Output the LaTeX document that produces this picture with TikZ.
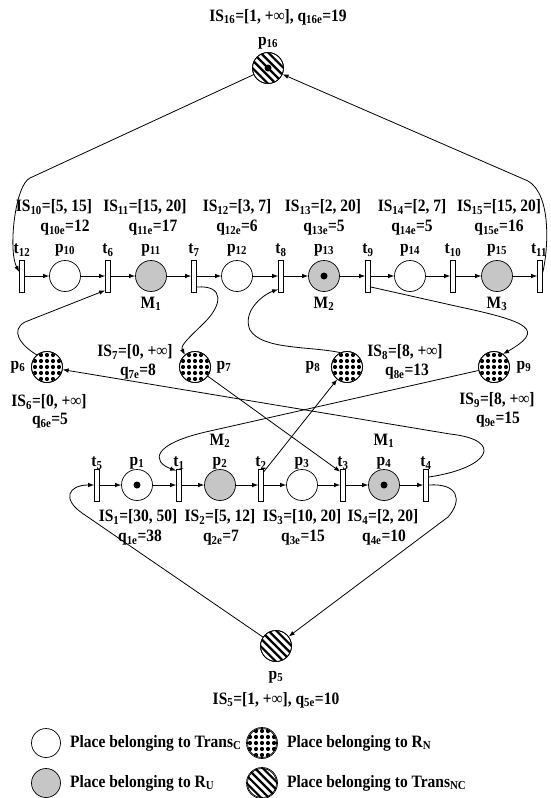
\documentclass[tikz,border=0pt]{standalone}
\usepackage{fontspec}
\setmainfont{Liberation Serif}
\usetikzlibrary{arrows.meta,calc}
\tikzset{
  place/.style={circle,draw,line width=0.7pt,minimum size=31pt,inner sep=0pt},
  ru/.style={place,fill=gray!45},
  trans/.style={rectangle,draw,line width=0.7pt,minimum width=5pt,minimum height=32pt,inner sep=0pt,fill=white},
  lbl/.style={inner sep=0pt,font=\fontsize{15.5}{18}\selectfont\bfseries,
    execute at begin node={\setbox0=\hbox\bgroup},
    execute at end node={\egroup\scalebox{1}[1.12]{\box0}}},
  arc/.style={line width=0.8pt,-{Latex[length=6pt,width=4.5pt]}},
  tok/.style={circle,fill=black,inner sep=0pt,minimum size=7pt},
}
\newcommand{\rnpat}[1]{\begin{scope}\clip (#1.center) circle (15pt);
  \foreach \i in {-2,...,2}{\foreach \j in {-2,...,2}{\fill ($(#1.center)+(\i*6,\j*6)$) circle (2.1pt);}}
  \end{scope}\draw[line width=0.7pt] (#1.center) circle (15.5pt);}
\newcommand{\ncpat}[1]{\begin{scope}\clip (#1.center) circle (15.2pt);
  \foreach \k in {-4,...,4}{\draw[line width=2.2pt] ($(#1.center)+(\k*3.9,-\k*3.9)+(-25,-25)$) -- ++(50,50);}
  \end{scope}\draw[line width=0.7pt] (#1.center) circle (15.5pt);}
\begin{document}
\begin{tikzpicture}[x=1pt,y=-1pt]
\useasboundingbox (0,0) rectangle (550,798);
% ---------- top row ----------
\node[trans] (t12) at (22,276) {};
\node[place] (p10) at (65,276) {};
\node[trans] (t6) at (108,276) {};
\node[ru] (p11) at (151,276) {};
\node[trans] (t7) at (194,276) {};
\node[place] (p12) at (237,276) {};
\node[trans] (t8) at (281,276) {};
\node[ru] (p13) at (324,276) {};
\node[trans] (t9) at (368,276) {};
\node[place] (p14) at (410,276) {};
\node[trans] (t10) at (453,276) {};
\node[ru] (p15) at (497,276) {};
\node[trans] (t11) at (540,276) {};
\node[tok] (k13) at (p13.center) {};
% labels top
\node[lbl] (lt12) at (22,250) {t\textsubscript{12}};
\node[lbl] (lp10) at (65,250) {p\textsubscript{10}};
\node[lbl] (lt6) at (108,250) {t\textsubscript{6}};
\node[lbl] (lp11) at (151,250) {p\textsubscript{11}};
\node[lbl] (lt7) at (194,250) {t\textsubscript{7}};
\node[lbl] (lp12) at (237,250) {p\textsubscript{12}};
\node[lbl] (lt8) at (281,250) {t\textsubscript{8}};
\node[lbl] (lp13) at (324,250) {p\textsubscript{13}};
\node[lbl] (lt9) at (368,250) {t\textsubscript{9}};
\node[lbl] (lp14) at (410,250) {p\textsubscript{14}};
\node[lbl] (lt10) at (453,250) {t\textsubscript{10}};
\node[lbl] (lp15) at (497,250) {p\textsubscript{15}};
\node[lbl] (lt11) at (539,250) {t\textsubscript{11}};
\node[lbl] (is10) at (54,207) {IS\textsubscript{10}=[5, 15]};
\node[lbl] (is11) at (145,207) {IS\textsubscript{11}=[15, 20]};
\node[lbl] (is12) at (237,207) {IS\textsubscript{12}=[3, 7]};
\node[lbl] (is13) at (323,207) {IS\textsubscript{13}=[2, 20]};
\node[lbl] (is14) at (412,207) {IS\textsubscript{14}=[2, 7]};
\node[lbl] (is15) at (499,207) {IS\textsubscript{15}=[15, 20]};
\node[lbl] (q10) at (65,228) {q\textsubscript{10e}=12};
\node[lbl] (q11) at (153,228) {q\textsubscript{11e}=17};
\node[lbl] (q12) at (237,228) {q\textsubscript{12e}=6};
\node[lbl] (q13) at (324,228) {q\textsubscript{13e}=5};
\node[lbl] (q14) at (412,228) {q\textsubscript{14e}=5};
\node[lbl] (q15) at (499,228) {q\textsubscript{15e}=16};
\node[lbl] (m1t) at (151,304) {M\textsubscript{1}};
\node[lbl] (m2t) at (324,304) {M\textsubscript{2}};
\node[lbl] (m3t) at (497,304) {M\textsubscript{3}};
% ---------- p16 ----------
\node[place] (p16) at (268,68) {};
\ncpat{p16}
\node[tok] (k16) at (p16.center) {};
\node[lbl] (lp16) at (268,43) {p\textsubscript{16}};
\node[lbl] (is16) at (278,17) {IS\textsubscript{16}=[1, +∞], q\textsubscript{16e}=19};
% ---------- middle ----------
\node[place] (p6) at (47,367) {}; \rnpat{p6}
\node[place] (p7) at (195,367) {}; \rnpat{p7}
\node[place] (p8) at (347,367) {}; \rnpat{p8}
\node[place] (p9) at (494,367) {}; \rnpat{p9}
\node[lbl] (lp6) at (18,367) {p\textsubscript{6}};
\node[lbl] (lp7) at (224,367) {p\textsubscript{7}};
\node[lbl] (lp8) at (313,367) {p\textsubscript{8}};
\node[lbl] (lp9) at (524,367) {p\textsubscript{9}};
\node[lbl] (is6) at (49,402) {IS\textsubscript{6}=[0, +∞]};
\node[lbl] (q6) at (50,421) {q\textsubscript{6e}=5};
\node[lbl] (is7) at (135,352) {IS\textsubscript{7}=[0, +∞]};
\node[lbl] (q7) at (138,372) {q\textsubscript{7e}=8};
\node[lbl] (is8) at (405,352) {IS\textsubscript{8}=[8, +∞]};
\node[lbl] (q8) at (407,372) {q\textsubscript{8e}=13};
\node[lbl] (is9) at (497,400) {IS\textsubscript{9}=[8, +∞]};
\node[lbl] (q9) at (498,420) {q\textsubscript{9e}=15};
% ---------- bottom row ----------
\node[trans] (t5) at (97,485) {};
\node[place] (p1) at (137,485) {};
\node[trans] (t1) at (179,485) {};
\node[ru] (p2) at (220,485) {};
\node[trans] (t2) at (261,485) {};
\node[place] (p3) at (302,485) {};
\node[trans] (t3) at (343,485) {};
\node[ru] (p4) at (384,485) {};
\node[trans] (t4) at (426,485) {};
\node[tok] (k1) at (p1.center) {};
\node[tok] (k4) at (p4.center) {};
\node[lbl] (lt5) at (97,463) {t\textsubscript{5}};
\node[lbl] (lp1) at (137,463) {p\textsubscript{1}};
\node[lbl] (lt1) at (179,463) {t\textsubscript{1}};
\node[lbl] (lp2) at (220,463) {p\textsubscript{2}};
\node[lbl] (lt2) at (261,463) {t\textsubscript{2}};
\node[lbl] (lp3) at (302,463) {p\textsubscript{3}};
\node[lbl] (lt3) at (343,463) {t\textsubscript{3}};
\node[lbl] (lp4) at (384,463) {p\textsubscript{4}};
\node[lbl] (lt4) at (426,463) {t\textsubscript{4}};
\node[lbl] (m2b) at (220,441) {M\textsubscript{2}};
\node[lbl] (m1b) at (384,441) {M\textsubscript{1}};
\node[lbl] (is1) at (138,517) {IS\textsubscript{1}=[30, 50]};
\node[lbl] (is2) at (220,517) {IS\textsubscript{2}=[5, 12]};
\node[lbl] (is3) at (302,517) {IS\textsubscript{3}=[10, 20]};
\node[lbl] (is4) at (383,517) {IS\textsubscript{4}=[2, 20]};
\node[lbl] (q1) at (140,538) {q\textsubscript{1e}=38};
\node[lbl] (q2) at (221,538) {q\textsubscript{2e}=7};
\node[lbl] (q3) at (303,538) {q\textsubscript{3e}=15};
\node[lbl] (q4) at (384,538) {q\textsubscript{4e}=10};
% ---------- p5 ----------
\node[place] (p5) at (276,646) {};
\ncpat{p5}
\node[lbl] (lp5) at (276,677) {p\textsubscript{5}};
\node[lbl] (is5) at (276,700) {IS\textsubscript{5}=[1, +∞], q\textsubscript{5e}=10};
% ---------- row arcs ----------
\foreach \a/\b in {t12/p10,p10/t6,t6/p11,p11/t7,t7/p12,p12/t8,t8/p13,p13/t9,t9/p14,p14/t10,t10/p15,p15/t11,
  t5/p1,p1/t1,t1/p2,p2/t2,t2/p3,p3/t3,t3/p4,p4/t4}
  \draw[arc] (\a) -- (\b);
% ---------- other arcs ----------
\draw[arc] (p16) -- (30,178) .. controls (15,185) and (8,250) .. ($(t12.west)+(0,-4)$);
\draw[arc] ($(t11.east)+(0,-4)$) .. controls (548,250) and (552,195) .. (528,181) -- (p16);
\draw[arc] (p6.130) .. controls (20,345) and (10,330) .. (25,322) -- ($(t6.south west)+(0,-2)$);
\draw[arc] ($(t7.east)+(0,11)$) .. controls (225,285) and (222,305) .. (205,322) .. controls (190,337) and (180,345) .. (p7.130);
\draw[arc] (p8.115) .. controls (310,346) and (262,350) .. (250,330) .. controls (242,312) and (262,295) .. ($(t8.south west)+(0,-3)$);
\draw[arc] ($(t9.east)+(0,11)$) -- (460,307) .. controls (530,322) and (545,330) .. (p9.55);
\draw[arc] (p7) -- ($(t3.north west)+(0,3)$);
\draw[arc] ($(t2.north east)+(0,3)$) -- (p8);
\draw[arc] ($(t4.east)+(0,-8)$) .. controls (490,468) and (505,440) .. (450,434) -- (p6);
\draw[arc] (p9) -- (210,431) .. controls (150,444) and (152,462) .. ($(t1.north west)+(0,2)$);
\draw[arc] (t4.east) .. controls (458,483) and (463,500) .. (448,517) -- (p5);
\draw[arc] (p5) -- (82,513) .. controls (62,499) and (68,485) .. (t5.west);
% ---------- legend ----------
\node[place,minimum size=29pt] (lg1) at (46,743) {};
\node[place,minimum size=29pt] (lg2) at (262,743) {}; \rnpat{lg2}
\node[ru,minimum size=29pt] (lg3) at (46,783) {};
\node[place,minimum size=29pt] (lg4) at (262,783) {}; \ncpat{lg4}
\node[lbl,anchor=west] (lgt1) at (70,743) {Place belonging to Trans\textsubscript{C}};
\node[lbl,anchor=west] (lgt2) at (287,743) {Place belonging to R\textsubscript{N}};
\node[lbl,anchor=west] (lgt3) at (70,783) {Place belonging to R\textsubscript{U}};
\node[lbl,anchor=west] (lgt4) at (287,783) {Place belonging to Trans\textsubscript{NC}};
\end{tikzpicture}
\end{document}
